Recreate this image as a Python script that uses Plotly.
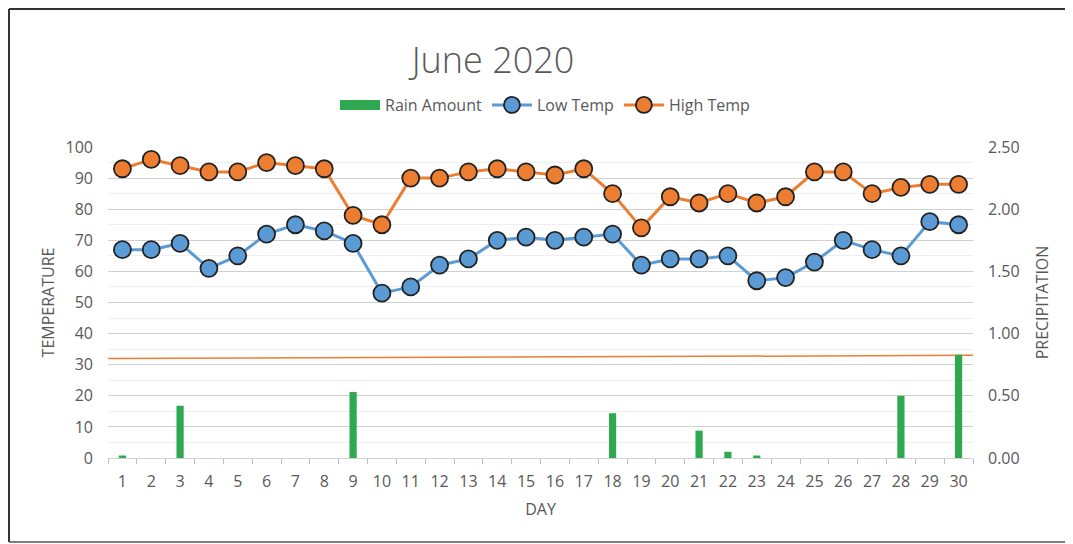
import plotly.graph_objects as go

days = list(range(1, 31))
low_temp = [67, 67, 69, 61, 65, 72, 75, 73, 69, 53,
            55, 62, 64, 70, 71, 70, 71, 72, 62, 64,
            64, 65, 57, 58, 63, 70, 67, 65, 76, 75]
high_temp = [93, 96, 94, 92, 92, 95, 94, 93, 78, 75,
             90, 90, 92, 93, 92, 91, 93, 85, 74, 84,
             82, 85, 82, 84, 92, 92, 85, 87, 88, 88]
rain = [0.02, 0, 0.42, 0, 0, 0, 0, 0, 0.53, 0,
        0, 0, 0, 0, 0, 0, 0, 0.36, 0, 0,
        0.22, 0.05, 0.02, 0, 0, 0, 0, 0.50, 0, 0.83]
ref_line_x = [0.5, 30.5]
ref_line_y = [32, 33]

# page body has an 8px margin; compensate so the plot lands where the reference is
OFF = 8
W, H = 1073 - OFF, 544 - 2
L, T = 108 - OFF, 147 - OFF
pw, ph = 865, 311
R = W - L - pw
B = H - T - ph

def px(x):
    return (x - OFF - L) / pw

def py(y):
    return (T + ph - (y - OFF)) / ph

FONT = "Open Sans"
GREY = "#595959"
GREEN = "#2fa84f"

fig = go.Figure()
fig.add_trace(go.Bar(x=days, y=rain, name="Rain Amount", yaxis="y2", showlegend=False,
                     marker=dict(color=GREEN, line=dict(width=0)), width=0.25))
fig.add_trace(go.Scatter(x=[None], y=[None], name="Rain Amount", mode="lines",
                         line=dict(color=GREEN, width=10), yaxis="y2"))
fig.add_trace(go.Scatter(x=ref_line_x, y=ref_line_y, mode="lines", showlegend=False,
                         line=dict(color="#ed7d31", width=1.5), hoverinfo="skip"))
fig.add_trace(go.Scatter(x=days, y=low_temp, name="Low Temp", mode="lines+markers",
                         line=dict(color="#5b9bd5", width=3),
                         marker=dict(size=17, color="#5b9bd5", line=dict(color="#222222", width=1.8))))
fig.add_trace(go.Scatter(x=days, y=high_temp, name="High Temp", mode="lines+markers",
                         line=dict(color="#ed7d31", width=3),
                         marker=dict(size=17, color="#ed7d31", line=dict(color="#222222", width=1.8))))

border = dict(color="#333333", width=2)
fig.update_layout(
    width=W, height=H,
    margin=dict(l=L, r=R, t=T, b=B, autoexpand=False),
    paper_bgcolor="white", plot_bgcolor="white",
    font=dict(family=FONT, color=GREY, size=16),
    title=dict(text="June 2020", x=px(493), xref="paper", xanchor="center",
               y=1 - (60 - OFF) / H, yanchor="middle",
               font=dict(family=FONT, size=36, color=GREY, weight=300)),
    showlegend=True,
    legend=dict(orientation="h", x=px(545), xanchor="center", y=py(105), yanchor="middle",
                font=dict(size=16, color=GREY), itemwidth=40, traceorder="normal",
                bgcolor="rgba(0,0,0,0)"),
    xaxis=dict(range=[0.5, 30.5], tickmode="array", tickvals=days, ticktext=[str(d) for d in days],
               showgrid=False, ticks="", showline=True, linecolor="#d0d0d0", linewidth=1,
               tickfont=dict(size=16, color=GREY), ticklabelstandoff=9,
               minor=dict(tick0=0.5, dtick=1, ticks="outside", ticklen=5, tickcolor="#bfbfbf", showgrid=False),
               title=dict(text="DAY", font=dict(size=16, color=GREY), standoff=12),
               zeroline=False),
    yaxis=dict(range=[0, 100], dtick=10, showgrid=True, gridcolor="#d0d0d0", gridwidth=1,
               minor=dict(dtick=5, showgrid=True, gridcolor="#efefef"),
               tickfont=dict(size=16, color=GREY), zeroline=False, ticks="", ticklabelstandoff=14,
               title=dict(text="TEMPERATURE", font=dict(size=16, color=GREY), standoff=6)),
    yaxis2=dict(range=[0, 2.5], dtick=0.5, tickformat=".2f", overlaying="y", side="right",
                showgrid=False, zeroline=False, ticks="", ticklabelstandoff=14,
                tickfont=dict(size=16, color=GREY),
                title=dict(text="PRECIPITATION", font=dict(size=16, color=GREY), standoff=18)),
    shapes=[
        dict(type="line", xref="paper", yref="paper", x0=px(9), x1=px(9), y0=py(542), y1=py(9), line=border, layer="below"),
        dict(type="line", xref="paper", yref="paper", x0=px(9), x1=px(1073), y0=py(9), y1=py(9), line=border, layer="below"),
        dict(type="line", xref="paper", yref="paper", x0=px(9), x1=px(1073), y0=py(542), y1=py(542),
             line=dict(color="#555555", width=1.5), layer="below"),
    ],
)

fig.write_html("out.html")
